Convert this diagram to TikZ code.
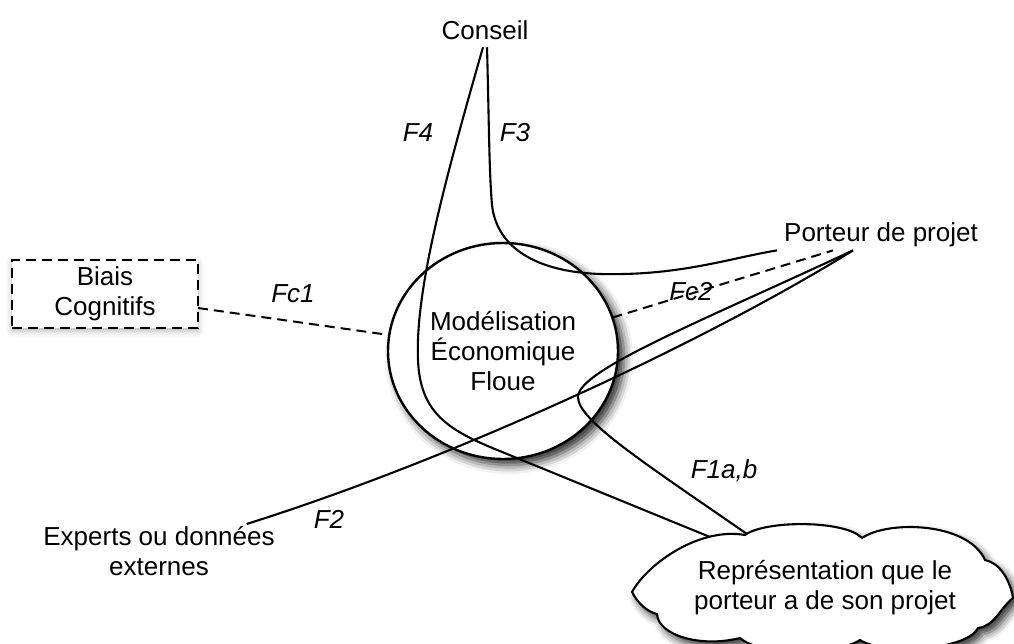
\documentclass[tikz,border=0pt]{standalone}
\usepackage{fontspec}
\setmainfont{Liberation Sans}
\usetikzlibrary{calc,shapes.geometric,shadows.blur}
\begin{document}
\begin{tikzpicture}[x=1pt,y=-1pt,
  txt/.style={font=\fontsize{26}{30}\selectfont, inner sep=0pt, outer sep=0pt},
  flab/.style={font=\fontsize{26}{30}\selectfont\itshape, inner sep=0pt, anchor=base},
  flow/.style={line width=2.1pt, line join=round},
  dashlink/.style={line width=2pt, dash pattern=on 10pt off 6pt},
  biasbox/.style={txt, draw, dash pattern=on 10pt off 6pt, line width=2pt, fill=white,
    minimum width=186pt, minimum height=68pt, align=center,
    blur shadow={shadow xshift=0pt, shadow yshift=-3pt, shadow blur radius=6pt, shadow opacity=30}},
  mefshape/.style={txt, ellipse, draw, line width=2.4pt, fill=white,
    minimum width=230pt, minimum height=216pt, align=center,
    blur shadow={shadow xshift=6pt, shadow yshift=-6pt, shadow blur radius=9pt, shadow opacity=85}},
  cloudline/.style={draw, line width=2.1pt, line join=miter, fill=white,
    blur shadow={shadow xshift=5pt, shadow yshift=-6pt, shadow blur radius=8pt, shadow opacity=80}}
]
\useasboundingbox (0,0) rectangle (1014,644);

% cloud outline (drawn shape)
\path[cloudline] (632,592)
  .. controls (648,563) and (700,527) .. (745,535)
  .. controls (765,520) and (845,520) .. (862,538)
  .. controls (888,520) and (968,522) .. (985,560)
  .. controls (1000,563) and (1010,580) .. (1013,598)
  .. controls (1000,608) and (995,626) .. (978,628)
  .. controls (965,652) and (880,654) .. (860,640)
  .. controls (835,656) and (760,656) .. (740,638)
  .. controls (700,648) and (658,635) .. (657,614)
  .. controls (648,612) and (638,604) .. (632,592) -- cycle;

% nodes
\node[txt, anchor=base] (conseil) at (485,40) {Conseil};
\node[txt, anchor=base] (porteur) at (881,242) {Porteur de projet};
\node[txt, anchor=north, align=center] (experts) at (159,526) {Experts ou données\\externes};
\node[biasbox] (biais) at (105,294) {Biais\\Cognitifs};
\node[mefshape] (mef) at (503,351) {Modélisation\\Économique\\Floue};
\node[txt, align=center] (cloud) at (825,588) {Représentation que le\\porteur a de son projet};

% connector end points
\coordinate (c4s) at ($(conseil.south)+(-2,7)$);
\coordinate (c3s) at ($(conseil.south)+(2,7)$);
\coordinate (p3e) at ($(porteur.south)+(-104,3)$);
\coordinate (pf)  at ($(porteur.south)+(-28,3)$);
\coordinate (pc2) at ($(porteur.south)+(-48,3)$);
\coordinate (es)  at ($(experts.north east)+(-28,-2)$);
\coordinate (c4e) at ($(cloud.center)+(-115,-51)$);
\coordinate (c1e) at ($(cloud.center)+(-78,-54)$);
\coordinate (bs)  at ($(biais.east)+(0,14)$);

% F4 : Conseil -> nuage
\draw[flow] (c4s) .. controls (445,180) and (415,290) .. (418,360)
  .. controls (420,410) and (445,428) .. (490,447) -- (c4e);
% F3 : Conseil -> Porteur
\draw[flow] (c3s) .. controls (489,120) and (489,170) .. (492,205)
  .. controls (497,250) and (540,272) .. (600,274)
  .. controls (680,276) and (730,258) .. (p3e);
% F1a,b : Porteur -> nuage
\draw[flow] (pf) .. controls (700,322) and (578,370) .. (578,397)
  .. controls (578,420) and (640,460) .. (c1e);
% F2 : Experts -> Porteur
\draw[flow] (es) .. controls (450,460) and (700,345) .. (pf);
% Fc1, Fc2
\draw[dashlink] (bs) -- (mef.172);
\draw[dashlink] (mef.17) -- (pc2);

% labels
\node[flab] (lf4) at (418,142) {F4};
\node[flab] (lf3) at (515,142) {F3};
\node[flab] (lfc1) at (293,302) {Fc1};
\node[flab] (lfc2) at (691,300) {Fc2};
\node[flab] (lf2) at (329,528) {F2};
\node[flab] (lf1) at (724,478) {F1a,b};
\end{tikzpicture}
\end{document}
